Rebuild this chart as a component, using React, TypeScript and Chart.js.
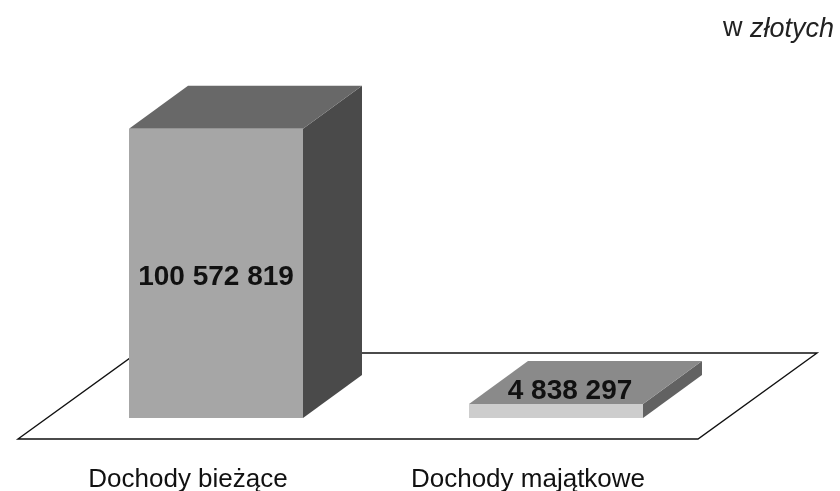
import React, { useEffect, useRef } from "react";
import { Chart, registerables } from "chart.js";

Chart.register(...registerables);

const categories = ["Dochody bieżące", "Dochody majątkowe"];
const values = [100572819, 4838297];
const valueLabels = ["100 572 819", "4 838 297"];
const unitPrefix = "w ";
const unitWord = "złotych";
const frontColors = ["#a6a6a6", "#cdcdcd"];
const topColors = ["#686868", "#8a8a8a"];
const sideColors = ["#4a4a4a", "#626262"];

const DEPTH_X = 59;
const DEPTH_Y = 43;
const FONT = '"Liberation Sans", Arial, sans-serif';

function poly(ctx: CanvasRenderingContext2D, pts: number[][], fill: string | null, stroke?: string) {
  ctx.beginPath();
  pts.forEach((p, i) => (i ? ctx.lineTo(p[0], p[1]) : ctx.moveTo(p[0], p[1])));
  ctx.closePath();
  if (fill) {
    ctx.fillStyle = fill;
    ctx.fill();
  }
  if (stroke) {
    ctx.strokeStyle = stroke;
    ctx.lineWidth = 1.4;
    ctx.stroke();
  }
}

const box3d = {
  id: "box3d",
  beforeDatasetsDraw(chart: any) {
    const { ctx, chartArea } = chart;
    const l = chartArea.left;
    const r = chartArea.right;
    const b = chartArea.bottom;
    ctx.save();
    // floor of the 3D plot
    poly(
      ctx,
      [
        [l - 28, b + 21],
        [r - 28, b + 21],
        [r + 91, b - 65],
        [l + 91, b - 65],
      ],
      "#ffffff",
      "#111111"
    );
    // side and top faces of each bar
    chart.getDatasetMeta(0).data.forEach((bar: any, i: number) => {
      const x0 = bar.x - bar.width / 2;
      const x1 = bar.x + bar.width / 2;
      const yT = bar.y;
      const yB = bar.base;
      poly(ctx, [[x1, yT], [x1 + DEPTH_X, yT - DEPTH_Y], [x1 + DEPTH_X, yB - DEPTH_Y], [x1, yB]], sideColors[i]);
      poly(ctx, [[x0, yT], [x0 + DEPTH_X, yT - DEPTH_Y], [x1 + DEPTH_X, yT - DEPTH_Y], [x1, yT]], topColors[i]);
    });
    ctx.restore();
  },
  afterDatasetsDraw(chart: any) {
    const { ctx } = chart;
    ctx.save();
    ctx.fillStyle = "#111111";
    ctx.textBaseline = "middle";
    ctx.textAlign = "center";
    ctx.font = `bold 28px ${FONT}`;
    chart.getDatasetMeta(0).data.forEach((bar: any, i: number) => {
      const tall = bar.base - bar.y > 40;
      const x = tall ? bar.x : bar.x + 14;
      const y = tall ? (bar.y + bar.base) / 2 + 4 : bar.y - 13;
      ctx.fillText(valueLabels[i], x, y);
    });
    ctx.fillStyle = "#222222";
    ctx.textAlign = "left";
    ctx.font = `27px ${FONT}`;
    ctx.fillText(unitPrefix, 723, 29);
    const w = ctx.measureText(unitPrefix).width;
    ctx.font = `italic 27px ${FONT}`;
    ctx.fillText(unitWord, 723 + w, 29);
    ctx.restore();
  },
};

export default function App() {
  const ref = useRef<HTMLCanvasElement>(null);
  useEffect(() => {
    const chart = new Chart(ref.current!, {
      type: "bar",
      data: {
        labels: categories,
        datasets: [
          {
            data: values,
            backgroundColor: frontColors,
            barPercentage: 174 / 340,
            categoryPercentage: 1,
            borderWidth: 0,
          },
        ],
      },
      plugins: [box3d],
      options: {
        responsive: false,
        animation: false,
        layout: { padding: { left: 46, right: 114, top: 73, bottom: 0 } },
        plugins: { legend: { display: false }, tooltip: { enabled: false } },
        scales: {
          x: {
            grid: { display: false },
            border: { display: false },
            afterFit: (s: any) => {
              s.height = 73;
            },
            ticks: {
              color: "#111111",
              font: { family: FONT, size: 26 },
              padding: 38,
              labelOffset: -28,
              maxRotation: 0,
            },
          },
          y: { display: false, min: 0, max: 120000000 },
        },
      },
    } as any);
    return () => chart.destroy();
  }, []);
  return (
    <div style={{ position: "absolute", left: 0, top: 0, width: 840, height: 491 }}>
      <canvas ref={ref} width={840} height={491} style={{ display: "block", filter: "blur(0.5px)" }} />
    </div>
  );
}
